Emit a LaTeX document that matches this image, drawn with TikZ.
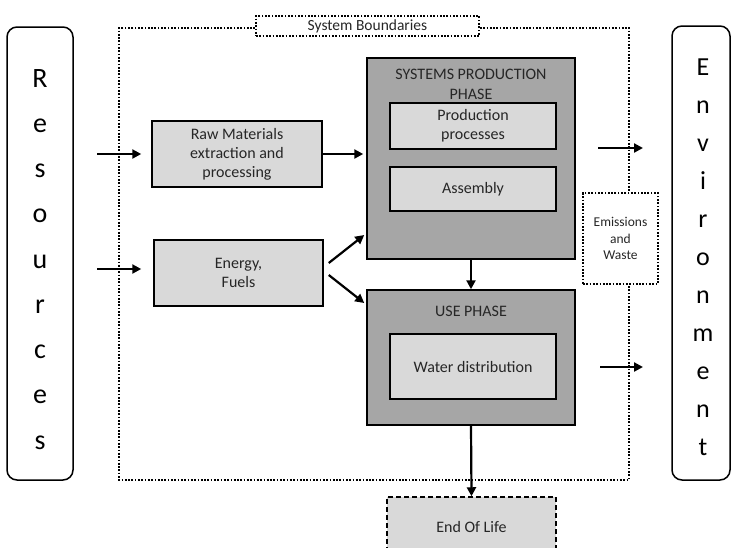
\documentclass[tikz,border=0pt]{standalone}
\usepackage{fontspec}
\setmainfont{Carlito}
\usetikzlibrary{arrows.meta}
\definecolor{lightbox}{HTML}{D9D9D9}
\definecolor{darkbox}{HTML}{A6A6A6}
\definecolor{txt}{HTML}{262626}
\begin{document}
\begin{tikzpicture}[x=1pt,y=-1pt,
  box/.style={draw=black, line width=1.5pt, fill=lightbox, inner sep=0pt, align=center, text=txt, font=\fontsize{16}{19}\selectfont},
  outer/.style={draw=black, line width=1.5pt, fill=darkbox, inner sep=0pt},
  title/.style={align=center, text=txt, font=\fontsize{16}{20}\selectfont},
  arr/.style={line width=2.2pt, -{Triangle[length=9pt,width=9pt]}},
  bound/.style={line width=1.8pt, dash pattern=on 1.7pt off 1.6pt},
  side/.style={draw=black, line width=1.5pt, rounded corners=10pt, inner sep=0pt},
  bigletter/.style={anchor=base, text=black, inner sep=0pt}]
\useasboundingbox (0,0) rectangle (733,547);

% side boxes
\node[side, minimum width=66pt, minimum height=453pt] (res) at (40,253.5) {};
\node[side, minimum width=58pt, minimum height=454pt] (env) at (701,253) {};
\foreach \l [count=\i] in {R,e,s,o,u,r,c,e,s}
  \node[bigletter, font=\fontsize{28}{28}\selectfont] (res\i) at (40,{87+(\i-1)*45.25}) {\l};
\foreach \l [count=\i] in {E,n,v,i,r,o,n,m,e,n,t}
  \node[bigletter, font=\fontsize{26}{26}\selectfont] (env\i) at (703,{75+(\i-1)*38}) {\l};

% system boundary
\node[draw, bound, minimum width=223pt, minimum height=20pt, inner sep=0pt, text=txt, font=\fontsize{15.5}{18}\selectfont] (lab) at (367.5,26) {System Boundaries};
\node[draw, bound, minimum width=75pt, minimum height=91pt, inner sep=0pt, align=center, text=txt, font=\fontsize{13.5}{16.5}\selectfont] (emis) at (620.5,238.5) {Emissions\\and\\Waste};
\coordinate (btl) at (119,28);
\coordinate (bbl) at (119,480);
\coordinate (bbr) at (629,480);
\coordinate (btr) at (629,28);
\draw[bound] ([yshift=-2pt]lab.west) -- (btl) -- (bbl) -- (bbr) -- (emis.south -| bbr);
\draw[bound] ([yshift=-2pt]lab.east) -- (btr) -- (emis.north -| btr);

% left boxes
\node[box, minimum width=170pt, minimum height=66pt] (raw) at (237,154) {Raw Materials\\extraction and\\processing};
\node[box, minimum width=169pt, minimum height=66pt] (en) at (238.5,273) {Energy,\\Fuels};

% production phase
\node[outer, minimum width=208pt, minimum height=201pt] (prod) at (471,158.5) {};
\node[title] (prodt) at (471,84) {SYSTEMS PRODUCTION\\PHASE};
\node[box, minimum width=166pt, minimum height=46pt] (pp) at (473,126) {Production\\processes};
\node[box, minimum width=166pt, minimum height=44pt] (asm) at (473,189) {Assembly};

% use phase
\node[outer, minimum width=208pt, minimum height=135pt] (use) at (471,357.5) {};
\node[title] (uset) at (471,311) {USE PHASE};
\node[box, minimum width=166pt, minimum height=65pt] (wat) at (473,366.5) {Water distribution};

% end of life
\node[box, dash pattern=on 5pt off 3pt, minimum width=169pt, minimum height=60pt] (eol) at (471.5,527) {End Of Life};

% arrows
\coordinate (r1) at (97,154);
\coordinate (r2) at (97,269);
\draw[arr] (r1) -- ([xshift=-10pt]raw.west |- r1);
\draw[arr] (r2) -- ([xshift=-12pt]en.west |- r2);
\draw[arr] (raw.east) -- ([xshift=-3pt]prod.west |- raw.east);
\draw[arr] ([xshift=5pt,yshift=10pt]en.east) -- ([xshift=-2pt,yshift=-76.5pt]prod.west);
\draw[arr] ([xshift=5pt,yshift=-2pt]en.east) -- ([xshift=-2pt,yshift=54.5pt]use.west);
\draw[arr] (prod.south) -- (use.north);
\draw[arr] (use.south) -- (eol.north);
\coordinate (o1) at (598,148);
\coordinate (o1e) at (643,148);
\coordinate (o2) at (600,367);
\coordinate (o2e) at (643,367);
\draw[arr] (o1) -- (o1e);
\draw[arr] (o2) -- (o2e);
\end{tikzpicture}
\end{document}
